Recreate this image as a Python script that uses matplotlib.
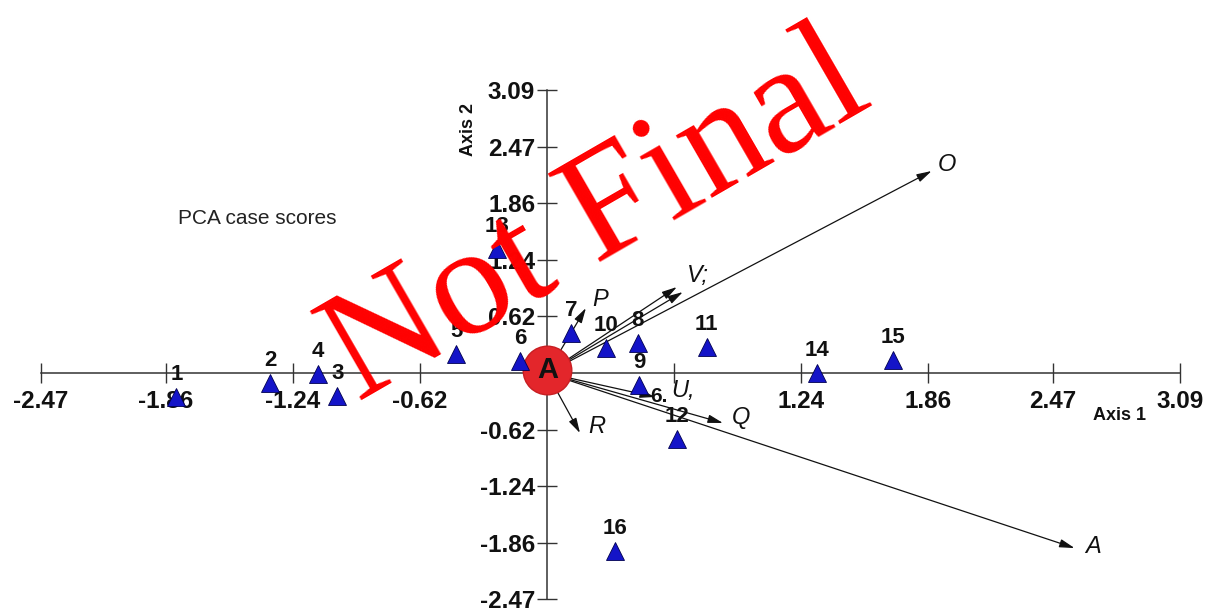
import matplotlib
matplotlib.use("Agg")
import matplotlib.pyplot as plt

# ---- data ----
case_ids = ["1", "2", "3", "4", "5", "6", "7", "8", "9", "10", "11", "12", "13", "14", "15", "16"]
case_x = [-1.810, -1.351, -1.024, -1.117, -0.444, -0.132, 0.117, 0.444, 0.449, 0.288, 0.780, 0.634, -0.244, 1.317, 1.688, 0.332]
case_y = [-0.262, -0.109, -0.251, -0.011, 0.208, 0.131, 0.437, 0.328, -0.131, 0.273, 0.284, -0.721, 1.355, 0.000, 0.142, -1.945]

var_names = ["O", "V;", "", "P", "R", "Q", "U,", "A"]
var_x = [1.878, 0.634, 0.663, 0.190, 0.161, 0.859, 0.527, 2.576]
var_y = [2.208, 0.940, 0.885, 0.710, -0.656, -0.546, -0.262, -1.913]

x_ticks = [-2.47, -1.86, -1.24, -0.62, 0.62, 1.24, 1.86, 2.47, 3.09]
x_tick_labels = ["-2.47", "-1.86", "-1.24", "-0.62", "", "1.24", "1.86", "2.47", "3.09"]
y_ticks = [3.09, 2.47, 1.86, 1.24, 0.62, -0.62, -1.24, -1.86, -2.47]
y_tick_labels = ["3.09", "2.47", "1.86", "1.24", "0.62", "-0.62", "-1.24", "-1.86", "-2.47"]

origin_x, origin_y = 0.0, 0.0

# label offsets (points) for arrow labels
var_label_offsets = {"O": (11, 5), "V;": (15, 8), "P": (10, 6), "R": (12, 5),
                     "Q": (13, 4), "U,": (20, 5), "A": (13, 1)}

plt.rcParams['font.family'] = ['Liberation Sans', 'DejaVu Sans']

fig = plt.figure(figsize=(12.13, 6.10), dpi=100)
ax = fig.add_axes([0, 0, 1, 1])
ax.set_xlim(-2.671, 3.252)
ax.set_ylim(-2.590, 4.077)
ax.patch.set_visible(False)

axis_col = '#333333'
for s in ['top', 'right']:
    ax.spines[s].set_visible(False)
ax.spines['left'].set_position(('data', 0))
ax.spines['bottom'].set_position(('data', 0))
ax.spines['left'].set_bounds(-2.47, 3.09)
ax.spines['bottom'].set_bounds(-2.47, 3.09)
for s in ['left', 'bottom']:
    ax.spines[s].set_color(axis_col)
    ax.spines[s].set_linewidth(1.1)

ax.set_xticks(x_ticks)
ax.set_xticklabels(x_tick_labels)
ax.set_yticks(y_ticks)
ax.set_yticklabels(y_tick_labels)
ax.tick_params(direction='inout', length=14, width=1.0, color=axis_col,
               labelsize=17.5)
ax.tick_params(axis='x', pad=5)
ax.tick_params(axis='y', pad=1.5)
for lab in ax.get_xticklabels() + ax.get_yticklabels():
    lab.set_fontweight('bold')
    lab.set_color('#111111')

# arrows (variables)
for name, vx, vy in zip(var_names, var_x, var_y):
    ax.annotate("", xy=(vx, vy), xytext=(origin_x, origin_y),
                arrowprops=dict(arrowstyle='-|>,head_length=0.9,head_width=0.25',
                                color='#111111', lw=0.9, shrinkA=0, shrinkB=0),
                zorder=3)
    if name:
        dx, dy = var_label_offsets.get(name, (10, 5))
        ax.annotate(name, xy=(vx, vy), xytext=(dx, dy), textcoords='offset points',
                    ha='center', va='center', fontsize=17, fontstyle='italic',
                    color='#111111', zorder=6)

# stray label partly hidden near U
ax.annotate("6.", xy=(var_x[6], var_y[6]), xytext=(3, 0), textcoords='offset points',
            ha='center', va='center', fontsize=15, fontweight='bold', color='#111111', zorder=6)

# circle at origin
ax.plot([origin_x], [origin_y + 0.03], 'o', ms=35, color='#e3262b',
        markeredgecolor='#c81e22', markeredgewidth=1, zorder=4)
ax.text(origin_x + 0.005, origin_y + 0.03, "A", ha='center', va='center',
        fontsize=21, fontweight='bold', color='#111111', zorder=5)

# case scores
ax.plot(case_x, case_y, '^', ms=12.5, color='#1414c8', markeredgecolor='#000050',
        markeredgewidth=0.6, linestyle='none', zorder=5)
for cid, cx, cy in zip(case_ids, case_x, case_y):
    ax.annotate(cid, xy=(cx, cy), xytext=(0, 16), textcoords='offset points',
                ha='center', va='center', fontsize=16, fontweight='bold',
                color='#111111', zorder=6)

# titles / axis names
ax.text(0.212, 0.642, "PCA case scores", transform=ax.transAxes, ha='center',
        va='center', fontsize=15, color='#222222')
ax.text(0.923, 0.319, "Axis 1", transform=ax.transAxes, ha='center',
        va='center', fontsize=13, fontweight='bold', color='#111111')
ax.text(0.386, 0.787, "Axis 2", transform=ax.transAxes, ha='center',
        va='center', fontsize=13, fontweight='bold', color='#111111', rotation=90)

# watermark
fig.text(0.2951, 0.341, "Not Final", rotation=30, rotation_mode='anchor',
         ha='left', va='baseline', fontsize=113, color='#ff0000',
         family=['Liberation Serif', 'DejaVu Serif'], zorder=10)

fig.savefig("out.png", dpi=100)
